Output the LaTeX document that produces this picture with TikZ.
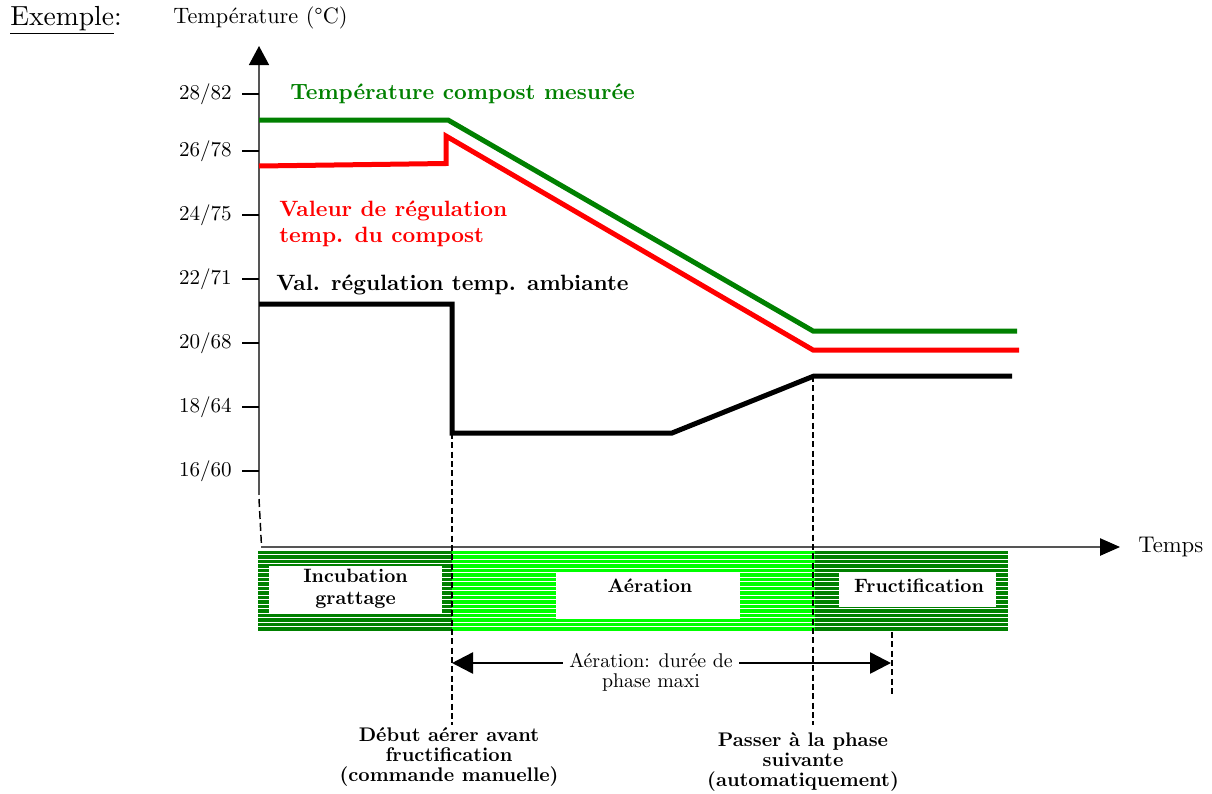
\documentclass[tikz,border=0pt]{standalone}
\usepackage{fontspec}
\setmainfont{lmroman10-regular}[Extension=.otf, BoldFont=lmroman10-bold, ItalicFont=lmroman10-italic, BoldItalicFont=lmroman10-bolditalic]
\usetikzlibrary{arrows.meta}
\definecolor{dkgreen}{RGB}{0,128,0}
\definecolor{ltgreen}{RGB}{0,255,0}
\definecolor{axisgray}{RGB}{85,85,85}
\definecolor{pred}{RGB}{255,0,0}
\tikzset{
  reg/.style={font=\fontsize{15.8}{15}\selectfont, inner sep=0pt},
  curvelbl/.style={font=\fontsize{16.6}{19.5}\selectfont\bfseries, inner sep=0pt, align=left, anchor=west},
  boxtxt/.style={font=\fontsize{14.5}{16.5}\selectfont\bfseries, inner sep=0pt, align=center},
  btmlbl/.style={font=\fontsize{14.8}{15}\selectfont\bfseries, inner sep=0pt, align=center},
  plotline/.style={line width=3.75pt},
  guide/.style={line width=0.9pt, dash pattern=on 4.5pt off 2.5pt},
  tick/.style={line width=0.9pt},
  axisline/.style={axisgray, line width=1.1pt},
  whitebox/.style={fill=white, draw=none},
}
\begin{document}
\begin{tikzpicture}[x=0.75pt,y=-0.75pt]
\useasboundingbox (0,0) rectangle (1212,793);

% ---- phase bar (striped) ----
\foreach \i in {0,...,17}{
  \pgfmathsetmacro{\yy}{552.6+4.5*\i}
  \draw[dkgreen, line width=2.45pt] (258,\yy) -- (452,\yy);
  \draw[ltgreen, line width=2.45pt] (452,\yy) -- (815,\yy);
  \draw[dkgreen, line width=2.45pt] (815,\yy) -- (1008,\yy);
}
\fill[whitebox] (269,566) rectangle (442,613);
\fill[whitebox] (556,573) rectangle (740,619);
\fill[whitebox] (839,573) rectangle (996,607);
\node[boxtxt] (incub) at (355.5,589) {Incubation\\grattage};
\node[boxtxt] (aera) at (650,586) {Aération};
\node[boxtxt] (fruct) at (919,586) {Fructification};

% ---- header texts ----
\node[reg, font=\fontsize{20.7}{24}\selectfont, anchor=west] (ex) at (10,20) {\underline{Exemple}:};
\node[reg, font=\fontsize{16.7}{20}\selectfont, anchor=west] (ylab) at (173,18) {Température (\textdegree C)};
\node[reg, font=\fontsize{17}{20}\selectfont, anchor=west] (xlab) at (1138,547) {Temps};

% ---- axes ----
\coordinate (yb) at (259,495);
\coordinate (yt) at (259,46);
\coordinate (ybrk1) at (259,499);
\coordinate (ybrk2) at (261.5,546);
\coordinate (xl) at (261,547);
\coordinate (xr) at (1120,547);
\draw[axisline, -{Triangle[length=14.25pt,width=15pt,color=black]}] (yb) -- (yt);
\draw[line width=1.1pt, dash pattern=on 6pt off 3pt] (ybrk1) -- (ybrk2);
\draw[axisline, -{Triangle[length=15pt,width=13pt,color=black]}] (xl) -- (xr);

% ---- ticks ----
\foreach \y/\t [count=\k] in {94/28\slash82,151/26\slash78,215/24\slash75,279/22\slash71,343/20\slash68,407/18\slash64,471/16\slash60}{
  \coordinate (tk\k a) at (242,\y);
  \coordinate (tk\k b) at (259,\y);
  \draw[tick] (tk\k a) -- (tk\k b);
  \node[reg, anchor=east] (tl\k) at (232,\y) {\t};
}

% ---- guides ----
\coordinate (ga1) at (452,433); \coordinate (ga2) at (452,725);
\coordinate (gb1) at (813,376); \coordinate (gb2) at (813,725);
\coordinate (gc1) at (892,632); \coordinate (gc2) at (892,695);
\draw[guide] (ga1) -- (ga2);
\draw[guide] (gb1) -- (gb2);
\draw[guide] (gc1) -- (gc2);

% ---- curves ----
\coordinate (g0) at (259,120); \coordinate (g1) at (448,120);
\coordinate (g2) at (813,331); \coordinate (g3) at (1017,331);
\draw[plotline, dkgreen] (g0) -- (g1) -- (g2) -- (g3);

\coordinate (r0) at (259,166); \coordinate (r1) at (446,163.5);
\coordinate (r2) at (446,136); \coordinate (r3) at (813,350); \coordinate (r4) at (1019,350);
\draw[plotline, pred] (r0) -- (r1) -- (r2) -- (r3) -- (r4);

\coordinate (k0) at (259,304); \coordinate (k1) at (452,304);
\coordinate (k2) at (452,433); \coordinate (k3) at (672,433);
\coordinate (k4) at (814,376); \coordinate (k5) at (1012,376);
\draw[plotline, black] (k0) -- (k1) -- (k2) -- (k3) -- (k4) -- (k5);

% ---- curve labels ----
\node[curvelbl, text=dkgreen] (lg) at (290,94) {Température compost mesurée};
\node[curvelbl, text=pred] (lr) at (279,224) {Valeur de régulation\\temp. du compost};
\node[curvelbl, text=black] (lk) at (276,285) {Val. régulation temp. ambiante};

% ---- duration arrow ----
\coordinate (dl) at (452,663);
\coordinate (dr) at (891,663);
\draw[line width=1.9pt, {Triangle[length=15.75pt,width=15.75pt]}-{Triangle[length=15.75pt,width=15.75pt]}] (dl) -- (dr);
\node[reg, font=\fontsize{14.9}{15}\selectfont, fill=white, align=center, inner xsep=5pt, inner ysep=1pt] (dur) at (651,672) {Aération: durée de\\phase maxi};

% ---- bottom labels ----
\node[btmlbl] (start) at (449,757) {Début aérer avant\\fructification\\(commande manuelle)};
\node[btmlbl] (next) at (803,762) {Passer à la phase\\suivante\\(automatiquement)};
\end{tikzpicture}
\end{document}
